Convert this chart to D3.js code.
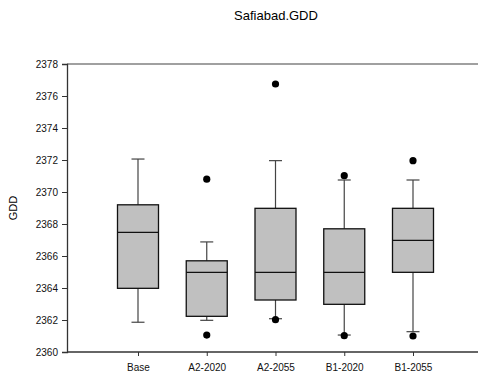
<!DOCTYPE html>
<html>
<head>
<meta charset="utf-8">
<script src="https://cdn.jsdelivr.net/npm/d3@7"></script>
<style>
  body { margin: 0; background: #fff; }
  svg { font-family: Arial, "Liberation Sans", sans-serif; }
</style>
</head>
<body>
<div id="container"></div>
<script>
/* DATA */
const categories = ["Base", "A2-2020", "A2-2055", "B1-2020", "B1-2055"];
const whiskerLow = [2361.86, 2361.98, 2362.08, 2361.06, 2361.27];
const q1 = [2363.98, 2362.23, 2363.25, 2362.98, 2364.98];
const medians = [2367.48, 2364.98, 2364.98, 2364.98, 2366.98];
const q3 = [2369.2, 2365.7, 2368.98, 2367.7, 2368.98];
const whiskerHigh = [2372.06, 2366.88, 2371.96, 2370.75, 2370.75];
const outliers = [
  [],
  [2370.8, 2361.06],
  [2376.75, 2362.02],
  [2371.02, 2361.02],
  [2371.96, 2361.0]
];
const yTicks = [2360, 2362, 2364, 2366, 2368, 2370, 2372, 2374, 2376, 2378];

const data = categories.map((c, i) => ({
  cat: c, lo: whiskerLow[i], q1: q1[i], med: medians[i], q3: q3[i], hi: whiskerHigh[i], out: outliers[i]
}));

/* CONSTANTS */
const width = 480, height = 379;
const plotLeft = 67, plotRight = 478, plotTop = 64, plotBottom = 352;

/* SCALES */
const xScale = d3.scalePoint()
  .domain(categories)
  .range([138, 413]);

const yScale = d3.scaleLinear()
  .domain([2360, 2378])
  .range([plotBottom, plotTop]);

const boxW = 41, capW = 13;

const svg = d3.select("#container")
  .append("svg")
  .attr("width", width)
  .attr("height", height);

// title
svg.append("text")
  .attr("x", 276)
  .attr("y", 20)
  .attr("text-anchor", "middle")
  .style("font-size", "13px")
  .text("Safiabad.GDD");

// top frame line
svg.append("line")
  .attr("x1", plotLeft).attr("x2", plotRight)
  .attr("y1", plotTop).attr("y2", plotTop)
  .attr("stroke", "#808080").attr("stroke-width", 1.5);

// boxes
const g = svg.selectAll("g.box")
  .data(data)
  .join("g")
  .attr("class", "box")
  .attr("transform", d => `translate(${xScale(d.cat)},0)`);

g.append("line")
  .attr("y1", d => yScale(d.hi)).attr("y2", d => yScale(d.q3))
  .attr("stroke", "#444").attr("stroke-width", 1.2);
g.append("line")
  .attr("y1", d => yScale(d.lo)).attr("y2", d => yScale(d.q1))
  .attr("stroke", "#444").attr("stroke-width", 1.2);
g.append("line")
  .attr("x1", -capW / 2).attr("x2", capW / 2)
  .attr("y1", d => yScale(d.hi)).attr("y2", d => yScale(d.hi))
  .attr("stroke", "#444").attr("stroke-width", 1.2);
g.append("line")
  .attr("x1", -capW / 2).attr("x2", capW / 2)
  .attr("y1", d => yScale(d.lo)).attr("y2", d => yScale(d.lo))
  .attr("stroke", "#444").attr("stroke-width", 1.2);

g.append("rect")
  .attr("x", -boxW / 2)
  .attr("width", boxW)
  .attr("y", d => yScale(d.q3))
  .attr("height", d => yScale(d.q1) - yScale(d.q3))
  .attr("fill", "#c0c0c0")
  .attr("stroke", "#111").attr("stroke-width", 1.3);

g.append("line")
  .attr("x1", -boxW / 2).attr("x2", boxW / 2)
  .attr("y1", d => yScale(d.med)).attr("y2", d => yScale(d.med))
  .attr("stroke", "#111").attr("stroke-width", 1.3);

g.selectAll("circle")
  .data(d => d.out)
  .join("circle")
  .attr("r", 3.6)
  .attr("cy", d => yScale(d))
  .attr("fill", "#000");

// axes
const yAxisGroup = svg.append("g")
  .attr("transform", `translate(${plotLeft},0)`)
  .call(d3.axisLeft(yScale).tickValues(yTicks).tickSize(5).tickPadding(4).tickFormat(d3.format("d")));

const xAxisGroup = svg.append("g")
  .attr("transform", `translate(0,${plotBottom})`)
  .call(d3.axisBottom(xScale).tickSize(4).tickPadding(8));

xAxisGroup.select(".domain").attr("d", `M${plotLeft},0H${plotRight}`);

[yAxisGroup, xAxisGroup].forEach(a => {
  a.select(".domain").attr("stroke", "#333").attr("stroke-width", 1.3);
  a.selectAll(".tick line").attr("stroke", "#333");
  a.selectAll("text").style("font-size", "10px").style("font-family", "Arial, 'Liberation Sans', sans-serif").attr("fill", "#111");
});

// y label
svg.append("text")
  .attr("transform", `translate(17,${(plotTop + plotBottom) / 2}) rotate(-90)`)
  .attr("text-anchor", "middle")
  .style("font-size", "11px")
  .text("GDD");
</script>
</body>
</html>
